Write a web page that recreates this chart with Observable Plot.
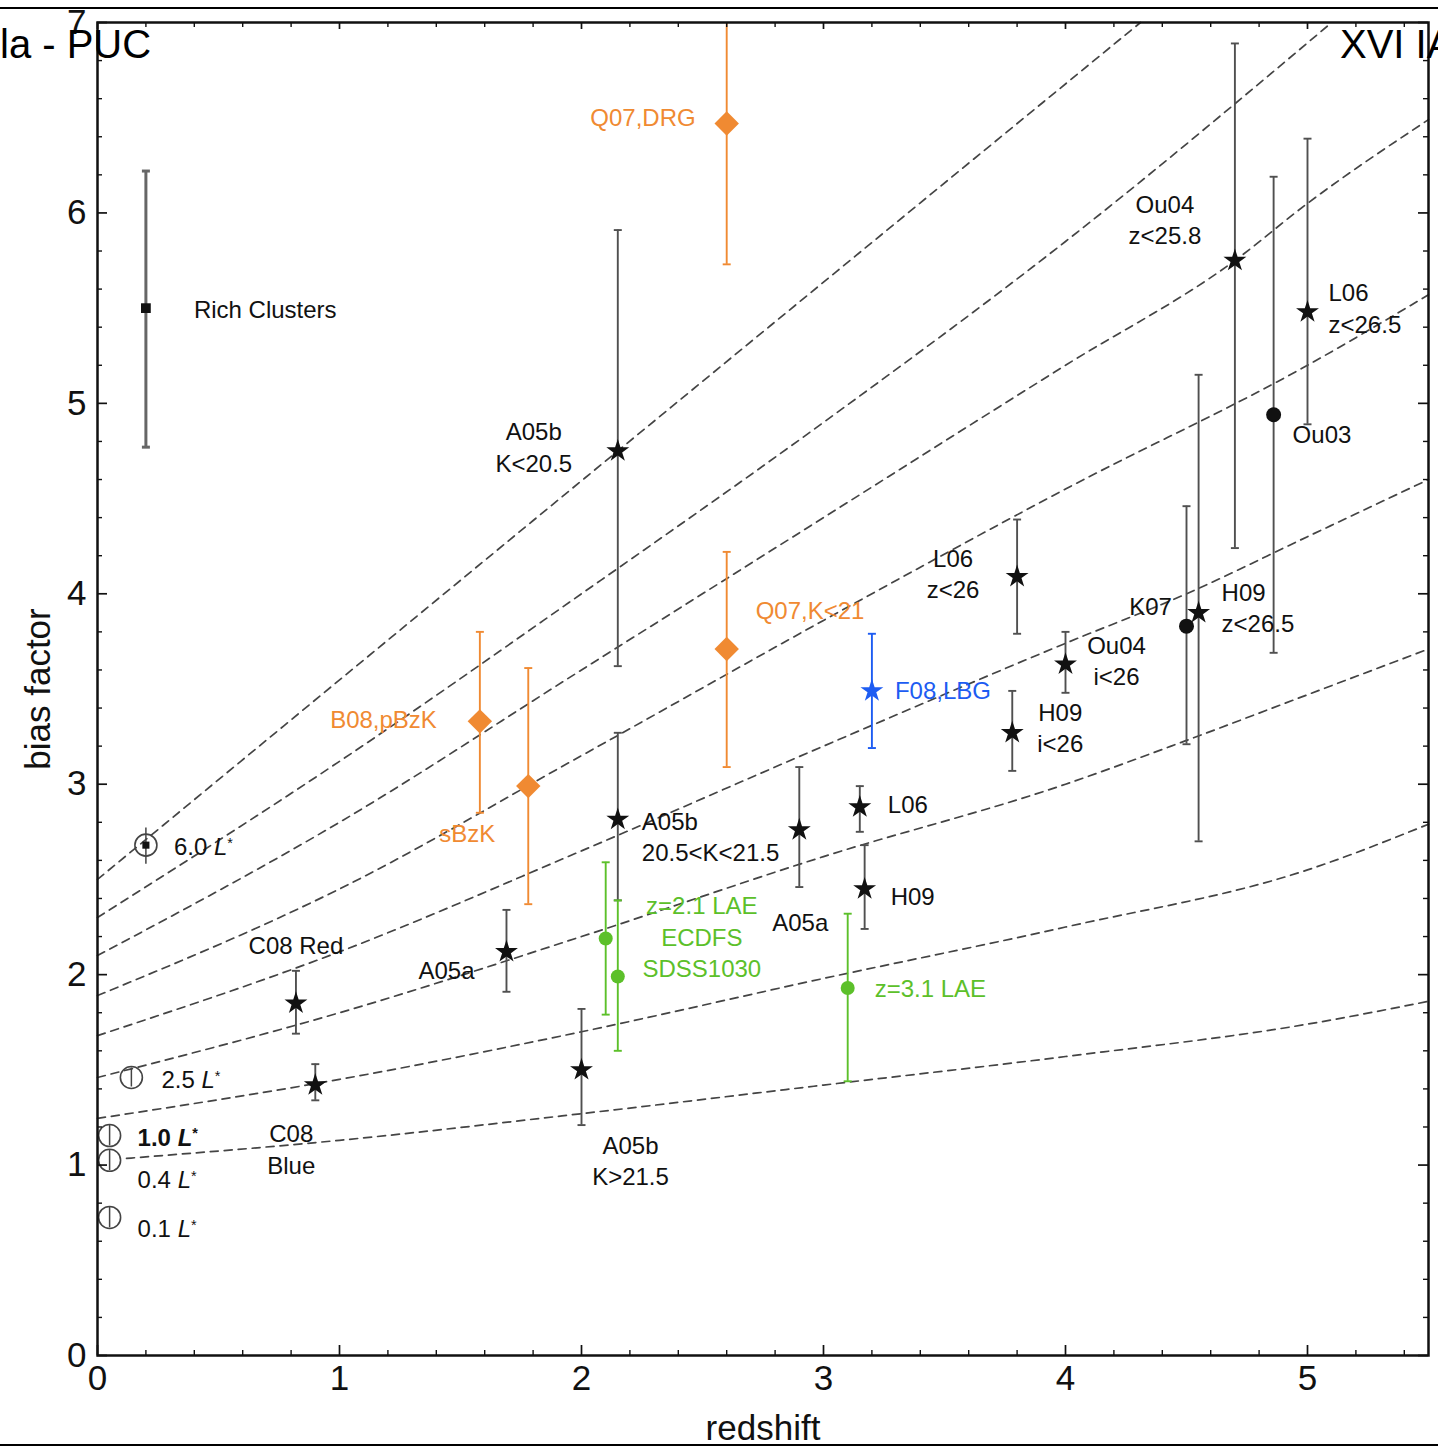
<!DOCTYPE html>
<html>
<head>
<meta charset="utf-8">
<script src="https://cdn.jsdelivr.net/npm/d3@7"></script>
<script src="https://cdn.jsdelivr.net/npm/@observablehq/plot@0.6"></script>
<style>
  html, body { margin: 0; padding: 0; background: #fff; }
  #page { position: relative; width: 1438px; height: 1453px; overflow: hidden; background: #fff;
          font-family: "Liberation Sans", Arial, Helvetica, sans-serif; }
  #chart { position: absolute; left: 0; top: 0; }
  .hrule { position: absolute; left: 0; width: 1438px; height: 2px; background: #000; z-index: 2; }
  .hdr { position: absolute; top: 20px; font-size: 40px; line-height: 48px; color: #000; z-index: 3; white-space: nowrap; }
</style>
</head>
<body>
<div id="page">
  <div id="chart"></div>
  <div class="hrule" style="top:7px"></div>
  <div class="hrule" style="top:1444px"></div>
  <div class="hdr" style="left:0px">la - PUC</div>
  <div class="hdr" style="left:1340px">XVI IA</div>
</div>
<script>
// ---- galaxy samples drawn as black stars ----
const starSample = ["C08 Red", "C08 Blue", "A05a", "A05b K>21.5", "A05b 20.5<K<21.5", "A05b K<20.5",
  "A05a z3", "L06 z3", "H09 z3", "L06 z<26", "H09 i<26", "Ou04 i<26", "H09 z<26.5", "Ou04 z<25.8", "L06 z<26.5"];
const starZ    = [0.82, 0.90, 1.69, 2.00, 2.15, 2.15, 2.90, 3.15, 3.17, 3.80, 3.78, 4.00, 4.55, 4.70, 5.00];
const starBias = [1.85, 1.42, 2.12, 1.50, 2.815, 4.75, 2.76, 2.88, 2.45, 4.09, 3.27, 3.63, 3.90, 5.75, 5.48];
const starLow  = [1.69, 1.34, 1.91, 1.21, 2.39, 3.62, 2.46, 2.75, 2.24, 3.79, 3.07, 3.48, 2.70, 4.24, 4.89];
const starHigh = [2.02, 1.53, 2.34, 1.82, 3.27, 5.91, 3.09, 2.99, 2.68, 4.39, 3.49, 3.80, 5.15, 6.89, 6.39];

// ---- samples drawn as black filled circles ----
const dotSample = ["K07", "Ou03"];
const dotZ    = [4.50, 4.86];
const dotBias = [3.83, 4.94];
const dotLow  = [3.21, 3.69];
const dotHigh = [4.46, 6.19];

// ---- BzK / DRG samples (orange diamonds) ----
const bzkSample = ["B08,pBzK", "sBzK", "Q07,K<21", "Q07,DRG"];
const bzkZ    = [1.58, 1.78, 2.60, 2.60];
const bzkBias = [3.33, 2.99, 3.71, 6.47];
const bzkLow  = [2.85, 2.37, 3.09, 5.73];
const bzkHigh = [3.80, 3.61, 4.22, 7.00];

// ---- Lyman-alpha emitters (green) ----
const laeSample = ["z=2.1 LAE ECDFS", "SDSS1030", "z=3.1 LAE"];
const laeZ    = [2.10, 2.15, 3.10];
const laeBias = [2.19, 1.99, 1.93];
const laeLow  = [1.79, 1.60, 1.44];
const laeHigh = [2.59, 2.39, 2.32];

// ---- Lyman-break galaxies (blue star) ----
const lbgSample = ["F08,LBG"];
const lbgZ    = [3.20];
const lbgBias = [3.49];
const lbgLow  = [3.19];
const lbgHigh = [3.79];

// ---- rich clusters ----
const clusterZ = [0.20], clusterBias = [5.50], clusterLow = [4.77], clusterHigh = [6.22];

// ---- local galaxies by luminosity (open circles) ----
const lumLabel = ["6.0 L*", "2.5 L*", "1.0 L*", "0.4 L*", "0.1 L*"];
const lumZ     = [0.20, 0.14, 0.05, 0.05, 0.05];
const lumBias  = [2.68, 1.46, 1.155, 1.025, 0.725];
const lumLow   = [2.58, 1.41, 1.10, 0.97, 0.67];
const lumHigh  = [2.77, 1.51, 1.21, 1.08, 0.78];

// ---- bias evolution of fixed-mass haloes (dashed) ----
const curveZ = [
  [0.12, 1, 2, 3, 4, 5, 5.5],
  [0, 1, 2, 3, 4, 5, 5.5],
  [0, 1, 2, 3, 4, 4.5, 5, 5.5],
  [0, 1, 2, 3, 4, 4.5, 5, 5.5],
  [0, 1, 2, 3, 4, 5, 5.5],
  [0, 1, 2, 3, 4, 4.7, 5, 5.5],
  [0, 1, 2, 3, 4, 5.10],
  [0, 2.15, 4.31]
];
const curveBias = [
  [1.035, 1.13, 1.27, 1.42, 1.57, 1.74, 1.86],
  [1.245, 1.45, 1.70, 1.98, 2.25, 2.55, 2.79],
  [1.46, 1.80, 2.20, 2.62, 3.00, 3.23, 3.47, 3.71],
  [1.68, 2.12, 2.65, 3.20, 3.74, 4.00, 4.30, 4.60],
  [1.89, 2.45, 3.15, 3.86, 4.55, 5.20, 5.57],
  [2.10, 2.80, 3.60, 4.40, 5.20, 5.75, 6.05, 6.49],
  [2.30, 3.12, 4.00, 4.90, 5.85, 7.00],
  [2.50, 4.75, 7.00]
];

// ---- axis ticks ----
const xMajor = [0, 1, 2, 3, 4, 5];
const yMajor = [0, 1, 2, 3, 4, 5, 6, 7];
const xMinor = d3.range(0, 28).map(i => i * 0.2).filter(v => v <= 5.5 && Math.abs(v - Math.round(v)) > 1e-6);
const yMinor = d3.range(0, 36).map(i => i * 0.2).filter(v => v <= 7 && Math.abs(v - Math.round(v)) > 1e-6);

// ---- styling ----
const W = 1438, H = 1453;
const mL = 97, mR = 10, mT = 22, mB = 98;
const plotW = W - mL - mR, plotH = H - mT - mB;
const ink = "#111";
const grey = "#505050";
const orange = "#f08a32";
const green = "#5cc02a";
const blue = "#1d5cf2";
const FONT = "Liberation Sans, Arial, Helvetica, sans-serif";

const rows = (z, b, lo, hi, names) => z.map((v, i) => ({z: v, b: b[i], lo: lo[i], hi: hi[i], name: names ? names[i] : ""}));
const stars = rows(starZ, starBias, starLow, starHigh, starSample);
const dots = rows(dotZ, dotBias, dotLow, dotHigh, dotSample);
const bzk = rows(bzkZ, bzkBias, bzkLow, bzkHigh, bzkSample);
const lae = rows(laeZ, laeBias, laeLow, laeHigh, laeSample);
const lbg = rows(lbgZ, lbgBias, lbgLow, lbgHigh, lbgSample);
const clusters = rows(clusterZ, clusterBias, clusterLow, clusterHigh);
const lum = rows(lumZ, lumBias, lumLow, lumHigh, lumLabel);
const curves = curveZ.flatMap((zs, k) => zs.map((z, i) => ({curve: k, z, b: curveBias[k][i]})));

// horizontal end cap for error bars
const cap = {draw(ctx, size) { const r = Math.sqrt(size / Math.PI); ctx.moveTo(-r, 0); ctx.lineTo(r, 0); }};

function errorBars(data, color, width = 1.9, capTop = true) {
  const marks = [
    Plot.ruleX(data, {x: "z", y1: "lo", y2: "hi", stroke: color, strokeWidth: width}),
    Plot.dot(data, {x: "z", y: "lo", symbol: cap, r: 4, stroke: color, fill: "none", strokeWidth: width})
  ];
  if (capTop) marks.push(Plot.dot(data.filter(d => d.hi < 7), {x: "z", y: "hi", symbol: cap, r: 4, stroke: color, fill: "none", strokeWidth: width}));
  return marks;
}

function tag(z, b, text, dx, dy, anchor = "middle", fill = ink, extra = {}) {
  return Plot.text([{z, b, text}], {x: "z", y: "b", text: "text", dx, dy, textAnchor: anchor, fill,
    fontSize: 24, lineHeight: 1.3, fontFamily: FONT, ...extra});
}

const chart = Plot.plot({
  width: W, height: H,
  marginLeft: mL, marginRight: mR, marginTop: mT, marginBottom: mB,
  style: {fontFamily: FONT, background: "transparent", color: ink, overflow: "visible"},
  x: {domain: [0, 5.5]},
  y: {domain: [0, 7]},
  marks: [
    // halo-mass tracks
    Plot.line(curves, {x: "z", y: "b", z: "curve", stroke: "#444", strokeWidth: 1.7, strokeDasharray: "8,6", curve: "monotone-x"}),

    // error bars
    ...errorBars(clusters, "#666", 3),
    ...errorBars(stars, grey),
    ...errorBars(dots, grey),
    ...errorBars(bzk, orange),
    ...errorBars(lae, green),
    ...errorBars(lbg, blue),
    Plot.ruleX(lum, {x: "z", y1: "lo", y2: "hi", stroke: "#444", strokeWidth: 1.5}),

    // symbols
    Plot.dot(lum, {x: "z", y: "b", r: 11, stroke: "#444", strokeWidth: 1.6, fill: "none"}),
    Plot.dot(lum.slice(0, 1), {x: "z", y: "b", symbol: "square", r: 4, fill: ink}),
    Plot.dot(clusters, {x: "z", y: "b", symbol: "square", r: 5.5, fill: ink}),
    Plot.dot(stars, {x: "z", y: "b", symbol: "star", r: 7.2, fill: ink}),
    Plot.dot(dots, {x: "z", y: "b", r: 7.5, fill: ink}),
    Plot.dot(bzk, {x: "z", y: "b", symbol: "diamond2", r: 11, fill: orange}),
    Plot.dot(lae, {x: "z", y: "b", r: 7, fill: green}),
    Plot.dot(lbg, {x: "z", y: "b", symbol: "star", r: 7.2, fill: blue}),

    // sample labels
    tag(clusterZ[0], clusterBias[0], "Rich Clusters", 48, 0, "start"),
    tag(starZ[0], starBias[0], "C08 Red", 0, -59),
    tag(starZ[1], starBias[1], "C08\nBlue", -24, 63),
    tag(starZ[2], starBias[2], "A05a", -60, 17),
    tag(starZ[3], starBias[3], "A05b\nK>21.5", 49, 90),
    tag(starZ[4], starBias[4], "A05b\n20.5<K<21.5", 24, 16, "start"),
    tag(starZ[5], starBias[5], "A05b\nK<20.5", -84, -5),
    tag(starZ[6], starBias[6], "A05a", 1, 91),
    tag(starZ[7], starBias[7], "L06", 28, -4, "start"),
    tag(starZ[8], starBias[8], "H09", 26, 6, "start"),
    tag(starZ[9], starBias[9], "L06\nz<26", -64, -4),
    tag(starZ[10], starBias[10], "H09\ni<26", 48, -6),
    tag(starZ[11], starBias[11], "Ou04\ni<26", 51, -5),
    tag(starZ[12], starBias[12], "H09\nz<26.5", 23, -6, "start"),
    tag(starZ[13], starBias[13], "Ou04\nz<25.8", -70, -42),
    tag(starZ[14], starBias[14], "L06\nz<26.5", 21, -5, "start"),
    tag(dotZ[0], dotBias[0], "K07", -36, -21),
    tag(dotZ[1], dotBias[1], "Ou03", 19, 18, "start"),
    tag(bzkZ[0], bzkBias[0], "B08,pBzK", -43, -3, "end", orange),
    tag(bzkZ[1], bzkBias[1], "sBzK", -61, 46, "middle", orange),
    tag(bzkZ[2], bzkBias[2], "Q07,K<21", 29, -40, "start", orange),
    tag(bzkZ[3], bzkBias[3], "Q07,DRG", -31, -7, "end", orange),
    tag(laeZ[1], laeBias[1], "z=2.1 LAE\nECDFS\nSDSS1030", 84, -41, "middle", green),
    tag(laeZ[2], laeBias[2], "z=3.1 LAE", 27, -1, "start", green),
    tag(lbgZ[0], lbgBias[0], "F08,LBG", 23, -2, "start", blue),
    tag(lumZ[0], lumBias[0], lumLabel[0], 28, 0, "start"),
    tag(lumZ[1], lumBias[1], lumLabel[1], 30, 1, "start"),
    tag(lumZ[2], lumBias[2], lumLabel[2], 28, 0, "start", ink, {fontWeight: "bold"}),
    tag(lumZ[3], lumBias[3], lumLabel[3], 28, 18, "start"),
    tag(lumZ[4], lumBias[4], lumLabel[4], 28, 10, "start"),

    // inward ticks on all four sides
    Plot.ruleX(xMajor, {x: d => d, insetTop: plotH - 10, stroke: ink, strokeWidth: 1.7}),
    Plot.ruleX(xMinor, {x: d => d, insetTop: plotH - 5, stroke: ink, strokeWidth: 1.4}),
    Plot.ruleX(xMajor, {x: d => d, insetBottom: plotH - 7, stroke: ink, strokeWidth: 1.7}),
    Plot.ruleX(xMinor, {x: d => d, insetBottom: plotH - 5, stroke: ink, strokeWidth: 1.4}),
    Plot.ruleY(yMajor, {y: d => d, insetRight: plotW - 10, stroke: ink, strokeWidth: 1.7}),
    Plot.ruleY(yMinor, {y: d => d, insetRight: plotW - 5, stroke: ink, strokeWidth: 1.4}),
    Plot.ruleY(yMajor, {y: d => d, insetLeft: plotW - 10, stroke: ink, strokeWidth: 1.7}),
    Plot.ruleY(yMinor, {y: d => d, insetLeft: plotW - 5, stroke: ink, strokeWidth: 1.4}),
    Plot.frame({stroke: ink, strokeWidth: 2.5}),

    // tick labels and axis titles
    Plot.axisX({ticks: xMajor, tickSize: 0, tickPadding: 10, fontSize: 35, label: null, tickFormat: d3.format("d")}),
    Plot.axisY({ticks: yMajor, tickSize: 0, tickPadding: 11, fontSize: 35, label: null, tickFormat: d3.format("d")}),
    Plot.text(["redshift"], {frameAnchor: "bottom", dy: 73, lineAnchor: "middle", textAnchor: "middle", fontSize: 35, fill: ink}),
    Plot.text(["bias factor"], {frameAnchor: "left", dx: -59, rotate: -90, textAnchor: "middle", lineAnchor: "middle", fontSize: 35, fill: ink})
  ]
});

// italic L with superscript star in luminosity labels
const NS = "http://www.w3.org/2000/svg";
chart.querySelectorAll("text").forEach(t => {
  if (t.children.length) return;
  const m = t.textContent.match(/^(.*) L\*$/);
  if (!m) return;
  t.textContent = m[1] + " ";
  const L = document.createElementNS(NS, "tspan");
  L.setAttribute("font-style", "italic");
  L.textContent = "L";
  const s = document.createElementNS(NS, "tspan");
  s.setAttribute("dy", "-0.5em");
  s.setAttribute("font-size", "0.6em");
  s.textContent = "*";
  t.append(L, s);
});

document.getElementById("chart").append(chart);
</script>
</body>
</html>
